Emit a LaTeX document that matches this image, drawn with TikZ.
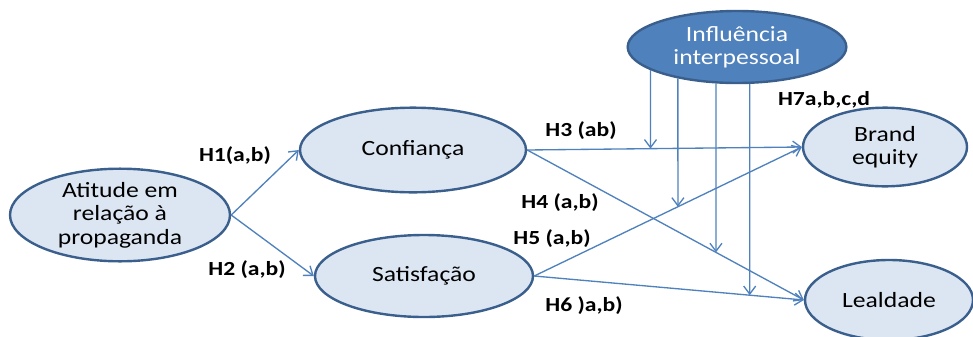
\documentclass[tikz,border=0pt]{standalone}
\usepackage{fontspec}
\setmainfont{Carlito}[FakeStretch=1.18]
\usetikzlibrary{shapes.geometric,arrows.meta}
\definecolor{edgeblue}{HTML}{4F81BD}
\definecolor{rimblue}{HTML}{3A5F8C}
\definecolor{paleblue}{HTML}{DCE6F2}
\definecolor{darkfill}{HTML}{4F81BD}
\tikzset{
  construct/.style={ellipse, draw=rimblue, line width=1.8pt, fill=paleblue,
    inner sep=0pt, align=center, font=\fontsize{16.3}{17.5}\selectfont},
  driver/.style={construct, fill=darkfill, text=white},
  link/.style={draw=edgeblue, line width=1pt,
    -{Straight Barb[length=6pt,width=9pt,line width=1pt]}},
  hyp/.style={font=\fontsize{15}{16}\selectfont\bfseries, inner sep=0pt}
}
\begin{document}
\begin{tikzpicture}[x=0.75pt,y=-0.75pt]
\useasboundingbox (0,0) rectangle (973,336);
\begin{scope}
\clip (0,0) rectangle (973,336);
% constructs (sizes in pt: 0.75pt per unit)
\node[construct, minimum width=165pt, minimum height=60pt] (att) at (120,215)
  {Atitude em\\relação à\\propaganda};
\node[construct, minimum width=169.5pt, minimum height=63.5pt] (conf) at (413,150) {Confiança};
\node[construct, minimum width=163.5pt, minimum height=61.5pt] (sat) at (424,276) {Satisfação};
\node[driver, minimum width=164pt, minimum height=54pt] (infl) at (737,47)
  {Influência\\interpessoal};
\node[construct, minimum width=123pt, minimum height=59pt] (brand) at (885,147)
  {Brand\\equity};
\node[construct, minimum width=126pt, minimum height=60pt] (leal) at (889,300) {Lealdade};

% direct paths
\draw[link] (att.east) -- (conf.west);
\draw[link] (att.east) -- (sat.west);
\draw[link] (conf.east) -- (brand.west);
\draw[link] (conf.east) -- (leal.west);
\draw[link] (sat.east) -- (brand.west);
\draw[link] (sat.east) -- (leal.west);

% moderation by interpersonal influence
\coordinate (m1) at (infl.195.3);
\coordinate (m2) at (infl.208.4);
\coordinate (m3) at (infl.240.5);
\coordinate (m4) at (infl.-71.5);
\coordinate (d1) at ([yshift=-300]m1);
\coordinate (d2) at ([yshift=-300]m2);
\coordinate (d3) at ([yshift=-300]m3);
\coordinate (d4) at ([yshift=-300]m4);
\draw[link] (m1) -- (intersection of m1--d1 and conf.east--brand.west);
\draw[link] (m2) -- (intersection of m2--d2 and sat.east--brand.west);
\draw[link] (m3) -- (intersection of m3--d3 and conf.east--leal.west);
\draw[link] (m4) -- (intersection of m4--d4 and sat.east--leal.west);
\end{scope}

% hypothesis labels
\node[hyp] (h1) at (235,156) {H1(a,b)};
\node[hyp] (h2) at (247,270) {H2 (a,b)};
\node[hyp] (h3) at (581,131) {H3 (ab)};
\node[hyp] (h4) at (560,203) {H4 (a,b)};
\node[hyp] (h5) at (552,239) {H5 (a,b)};
\node[hyp] (h6) at (584,306) {H6 )a,b)};
\node[hyp] (h7) at (824,100) {H7a,b,c,d};
\end{tikzpicture}
\end{document}
